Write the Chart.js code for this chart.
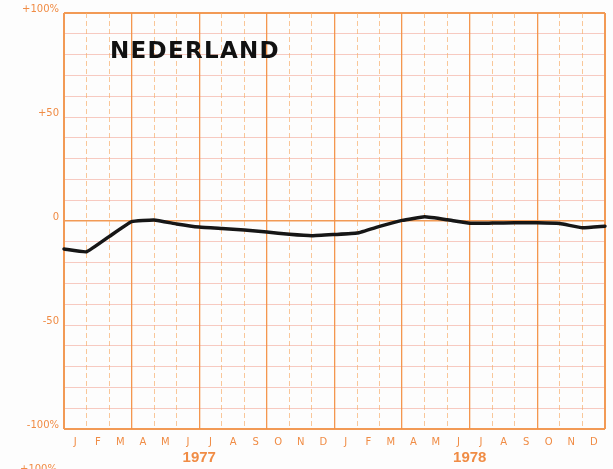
<!DOCTYPE html>
<html>
<head>
<meta charset="utf-8">
<script src="https://cdn.jsdelivr.net/npm/chart.js@4/dist/chart.umd.min.js"></script>
<style>
  html, body { margin: 0; padding: 0; background: #fdfdfd; }
  #wrap { width: 613px; height: 469px; }
</style>
</head>
<body>
<div id="wrap"><canvas id="c" width="613" height="469"></canvas></div>
<script>
// ---- data ----
const title = 'NEDERLAND';
const monthLabels = ['J','F','M','A','M','J','J','A','S','O','N','D','J','F','M','A','M','J','J','A','S','O','N','D'];
const years = ['1977', '1978'];
const yearCentres = [6, 18];               // month index under which each year label sits
const monthIndex = [0,1,2,3,4,5,6,7,8,9,10,11,12,13,14,15,16,17,18,19,20,21,22,23,24,24.35];
const changePct  = [-13.5,-14.8,-7.5,-0.3,0.5,-1.4,-2.9,-3.6,-4.3,-5.3,-6.4,-7.1,-6.5,-5.8,-2.6,0.3,2.0,0.6,-1.1,-1.0,-0.9,-0.8,-1.2,-3.3,-2.5,-2.3];
const yTickValues = [100, 50, 0, -50, -100];
const yTickLabels = ['+100%', '+50', '0', '-50', '-100%'];

const ORANGE = '#f29a55';
const TEXT_ORANGE = '#f08c45';

const points = monthIndex.map((m, i) => ({ x: m, y: changePct[i] }));

const bgPlugin = {
  id: 'bg',
  beforeDraw(chart) {
    const ctx = chart.ctx;
    ctx.save();
    ctx.fillStyle = '#fdfdfd';
    ctx.fillRect(0, 0, chart.width, chart.height);
    ctx.restore();
  }
};

const textPlugin = {
  id: 'texts',
  afterDraw(chart) {
    const ctx = chart.ctx;
    const area = chart.chartArea;
    const xs = chart.scales.x;
    ctx.save();
    ctx.fillStyle = '#111';
    ctx.font = 'bold 23px "DejaVu Sans", sans-serif';
    ctx.letterSpacing = '1.3px';
    ctx.textAlign = 'left';
    ctx.textBaseline = 'alphabetic';
    ctx.fillText(title, area.left + 46, area.top + 45);
    ctx.letterSpacing = '0px';
    ctx.fillStyle = TEXT_ORANGE;
    ctx.font = 'bold 15px "Liberation Sans", Arial, sans-serif';
    ctx.textAlign = 'center';
    years.forEach((y, i) => {
      ctx.fillText(y, xs.getPixelForValue(yearCentres[i]), area.bottom + 33);
    });
    ctx.font = '10px "DejaVu Sans", sans-serif';
    ctx.textAlign = 'left';
    ctx.fillText('+100%', 20, chart.height + 3);
    ctx.restore();
  }
};

new Chart(document.getElementById('c'), {
  type: 'line',
  data: {
    datasets: [{
      data: points,
      borderColor: '#161616',
      borderWidth: 3.5,
      pointRadius: 0,
      tension: 0.1,
      clip: false,
      borderCapStyle: 'round',
      borderJoinStyle: 'round'
    }]
  },
  options: {
    responsive: false,
    devicePixelRatio: 1,
    animation: false,
    layout: { padding: { left: 0, top: 13, right: 8, bottom: 0 } },
    plugins: { legend: { display: false }, tooltip: { enabled: false }, title: { display: false } },
    scales: {
      y: {
        type: 'linear',
        min: -100,
        max: 100,
        ticks: {
          stepSize: 10,
          color: TEXT_ORANGE,
          font: { family: '"DejaVu Sans", sans-serif', size: 10 },
          padding: 5,
          labelOffset: -4,
          autoSkip: false,
          callback: v => {
            const i = yTickValues.indexOf(v);
            return i >= 0 ? yTickLabels[i] : '';
          }
        },
        grid: {
          drawTicks: false,
          color: ctx => {
            const v = ctx.tick.value;
            if (v === 0 || v === 100 || v === -100) return ORANGE;
            return 'rgba(240,140,120,0.45)';
          },
          lineWidth: ctx => {
            const v = ctx.tick.value;
            return (v === 100 || v === -100) ? 2 : (v === 0 ? 1.5 : 1);
          }
        },
        border: { display: false },
        afterFit(s) { s.width = 64; }
      },
      x: {
        type: 'linear',
        position: 'bottom',
        weight: 0,
        min: 0,
        max: 24,
        ticks: { stepSize: 1, display: false },
        grid: {
          drawTicks: false,
          color: ctx => {
            const v = ctx.tick.value;
            if (v === 0 || v === 24) return ORANGE;
            return v % 3 === 0 ? 'rgba(243,145,70,0.95)' : 'rgba(246,175,110,0.7)';
          },
          lineWidth: ctx => {
            const v = ctx.tick.value;
            return (v === 0 || v === 24) ? 2 : (v % 3 === 0 ? 1.3 : 1);
          }
        },
        border: {
          display: false,
          dash: ctx => (ctx.tick && ctx.tick.value % 3 !== 0) ? [5, 3] : []
        },
        afterFit(s) { s.height = 0; }
      },
      xm: {
        type: 'category',
        position: 'bottom',
        weight: 1,
        labels: monthLabels,
        offset: true,
        grid: { display: false, drawTicks: false },
        border: { display: false },
        ticks: {
          color: TEXT_ORANGE,
          font: { family: '"DejaVu Sans", sans-serif', size: 10 },
          padding: 7,
          maxRotation: 0,
          autoSkip: false
        },
        afterFit(s) { s.height = 40; }
      }
    }
  },
  plugins: [bgPlugin, textPlugin]
});
</script>
</body>
</html>
